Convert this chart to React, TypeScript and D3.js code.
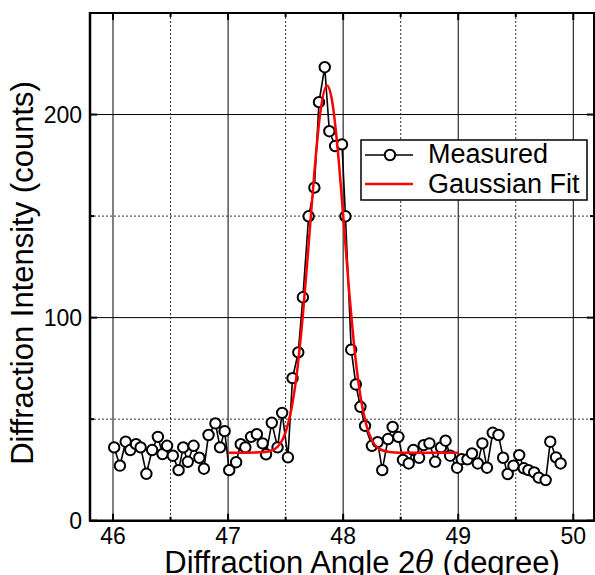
import * as d3 from 'd3'

const angles = [
  46.01, 46.06, 46.11, 46.15, 46.2, 46.24, 46.29, 46.34, 46.39, 46.43,
  46.47, 46.52, 46.57, 46.61, 46.65, 46.7, 46.75, 46.79, 46.83, 46.89,
  46.93, 46.97, 47.01, 47.07, 47.11, 47.15, 47.2, 47.25, 47.3, 47.33,
  47.38, 47.43, 47.47, 47.52, 47.56, 47.61, 47.65, 47.7, 47.75, 47.79,
  47.84, 47.88, 47.93, 47.99, 48.02, 48.07, 48.11, 48.15, 48.19, 48.25,
  48.3, 48.34, 48.39, 48.43, 48.48, 48.52, 48.57, 48.61, 48.66, 48.7,
  48.75, 48.8, 48.85, 48.89, 48.93, 48.99, 49.03, 49.08, 49.12, 49.17,
  49.21, 49.25, 49.3, 49.35, 49.39, 49.43, 49.48, 49.53, 49.57, 49.61,
  49.66, 49.7, 49.76, 49.8, 49.85, 49.89,
]

const counts = [
  36.1, 27.1, 38.9, 34.8, 37.7, 36.1, 23.1, 34.8, 41.3, 32.8,
  36.9, 32.0, 24.9, 36.1, 29.0, 36.9, 31.0, 25.6, 42.2, 47.9,
  36.1, 44.1, 24.9, 28.8, 37.7, 36.1, 41.3, 42.6, 38.1, 32.7,
  48.2, 36.1, 53.1, 31.2, 70.2, 82.9, 110.0, 149.9, 164.0, 206.1,
  223.3, 191.8, 184.5, 185.3, 149.9, 84.2, 67.1, 56.1, 46.7, 36.9,
  38.7, 24.9, 40.2, 46.2, 41.3, 29.9, 28.2, 34.8, 31.0, 37.2,
  38.1, 29.0, 36.1, 39.4, 32.0, 26.1, 30.3, 30.2, 33.1, 28.2,
  38.1, 26.1, 43.3, 42.2, 31.0, 23.0, 27.1, 32.3, 25.8, 24.9,
  23.8, 21.2, 20.0, 38.9, 31.2, 28.2,
]

// red fit curve
const fitAngles = [
  47.0, 47.3, 47.4, 47.5, 47.55, 47.6, 47.65, 47.7, 47.75, 47.8, 47.86,
  47.9, 47.95, 48.0, 48.05, 48.1, 48.15, 48.2, 48.25, 48.3, 48.4, 48.5, 49.0,
]
const fitCounts = [
  33.5, 33.7, 35.1, 43.6, 54.9, 73.7, 101.3, 135.9, 171.6, 200.4, 214.3,
  208.0, 184.5, 150.5, 114.5, 83.8, 61.4, 47.4, 39.6, 35.9, 33.8, 33.5, 33.5,
]

const xMajor = [46, 47, 48, 49, 50]
const xMinor = [46.5, 47.5, 48.5, 49.5]
const yMajor = [0, 100, 200]
const yMinor = [50, 150]

const seriesNames = ['Measured', 'Gaussian Fit']

const W = 595
const H = 575
const left = 90
const right = 594
const top = 13
const bottom = 520.7
const font = '"Liberation Sans", Arial, sans-serif'

export default function App() {
  const x = d3.scaleLinear().domain([45.8, 50.18]).range([left, right])
  const y = d3.scaleLinear().domain([0, 250]).range([bottom, top])

  const measured = angles.map((a, i) => [a, counts[i]] as [number, number])
  const fit = fitAngles.map((a, i) => [a, fitCounts[i]] as [number, number])

  const line = d3
    .line<[number, number]>()
    .x((d) => x(d[0]))
    .y((d) => y(d[1]))
  const fitLine = d3
    .line<[number, number]>()
    .x((d) => x(d[0]))
    .y((d) => y(d[1]))
    .curve(d3.curveMonotoneX)

  return (
    <svg
      width={W}
      height={H}
      style={{ position: 'absolute', left: 0, top: 0, background: '#fff' }}
      fontFamily={font}
    >
      {/* grid */}
      {xMajor.map((v) => (
        <line key={'xg' + v} x1={x(v)} x2={x(v)} y1={top} y2={bottom} stroke="#000" strokeWidth={1} />
      ))}
      {xMinor.map((v) => (
        <line key={'xm' + v} x1={x(v)} x2={x(v)} y1={top} y2={bottom} stroke="#333" strokeWidth={1} strokeDasharray="2,2" />
      ))}
      {yMajor.slice(1).map((v) => (
        <line key={'yg' + v} x1={left} x2={right} y1={y(v)} y2={y(v)} stroke="#000" strokeWidth={1} />
      ))}
      {yMinor.map((v) => (
        <line key={'ym' + v} x1={left} x2={right} y1={y(v)} y2={y(v)} stroke="#333" strokeWidth={1} strokeDasharray="2,2" />
      ))}

      {/* ticks, pointing inward on all four sides */}
      {xMajor.concat(xMinor).map((v) => {
        const len = xMajor.includes(v) ? 7 : 4
        return (
          <g key={'xt' + v} stroke="#000" strokeWidth={2}>
            <line x1={x(v)} x2={x(v)} y1={top} y2={top + len} />
            <line x1={x(v)} x2={x(v)} y1={bottom} y2={bottom - len} />
          </g>
        )
      })}
      {yMajor.concat(yMinor).map((v) => {
        const len = yMajor.includes(v) ? 7 : 4
        return (
          <g key={'yt' + v} stroke="#000" strokeWidth={2}>
            <line x1={left} x2={left + len} y1={y(v)} y2={y(v)} />
            <line x1={right} x2={right - len} y1={y(v)} y2={y(v)} />
          </g>
        )
      })}

      {/* frame */}
      <line x1={left} x2={right + 1} y1={top} y2={top} stroke="#000" strokeWidth={2} />
      <line x1={left} x2={right + 1} y1={bottom} y2={bottom} stroke="#000" strokeWidth={2.5} />
      <line x1={left} x2={left} y1={top - 1} y2={bottom + 1} stroke="#000" strokeWidth={2.5} />
      <line x1={right} x2={right} y1={top} y2={bottom} stroke="#000" strokeWidth={2} />

      {/* tick labels */}
      {xMajor.map((v) => (
        <text key={'xl' + v} x={x(v)} y={544} fontSize={23} textAnchor="middle" fill="#000">
          {v}
        </text>
      ))}
      {yMajor.map((v) => (
        <text key={'yl' + v} x={82} y={y(v) + 8} fontSize={23} textAnchor="end" fill="#000">
          {v}
        </text>
      ))}

      {/* axis titles */}
      <text x={362} y={573} fontSize={31} textAnchor="middle" fill="#000">
        Diffraction Angle 2
        <tspan fontStyle="italic" fontFamily='"DejaVu Serif", serif'>θ</tspan> (degree)
      </text>
      <text
        transform="translate(33,273) rotate(-90)"
        fontSize={31}
        textAnchor="middle"
        fill="#000"
      >
        Diffraction Intensity (counts)
      </text>

      {/* measured data */}
      <path d={line(measured) ?? ''} fill="none" stroke="#000" strokeWidth={1.6} />
      {measured.map((d, i) => (
        <circle key={i} cx={x(d[0])} cy={y(d[1])} r={5.2} fill="#fff" stroke="#000" strokeWidth={2} />
      ))}

      {/* gaussian fit */}
      <path d={fitLine(fit) ?? ''} fill="none" stroke="#ff0000" strokeWidth={2.5} />

      {/* legend */}
      <rect x={361} y={140} width={226} height={60} fill="#fff" stroke="#000" strokeWidth={1.5} />
      <line x1={365} x2={413} y1={155} y2={155} stroke="#000" strokeWidth={1.6} />
      <circle cx={390} cy={155} r={5.2} fill="#fff" stroke="#000" strokeWidth={2} />
      <text x={428} y={163} fontSize={27} fill="#000">
        {seriesNames[0]}
      </text>
      <line x1={365} x2={413} y1={184} y2={184} stroke="#ff0000" strokeWidth={2.5} />
      <text x={428} y={193} fontSize={27} fill="#000">
        {seriesNames[1]}
      </text>
    </svg>
  )
}
